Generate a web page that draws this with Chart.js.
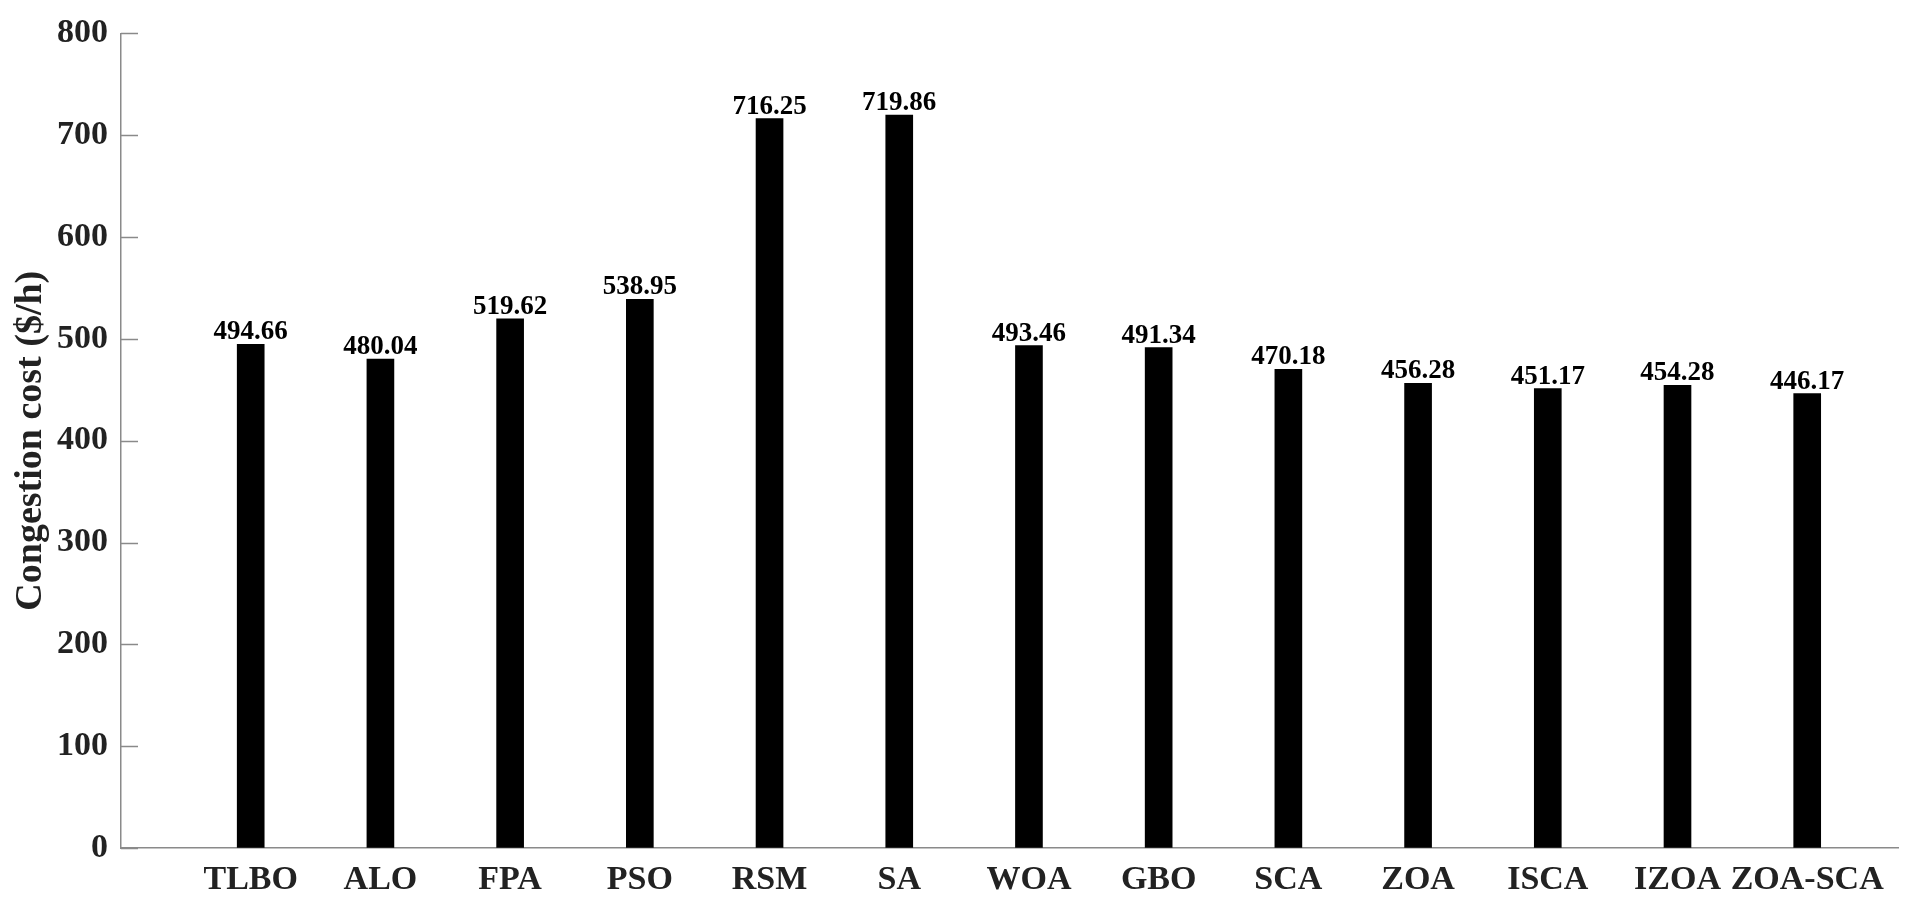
<!DOCTYPE html>
<html>
<head>
<meta charset="utf-8">
<script src="https://cdn.jsdelivr.net/npm/chart.js@4/dist/chart.umd.min.js"></script>
<style>
  html, body { margin: 0; padding: 0; background: #fff; }
  #wrap { width: 1913px; height: 910px; }
</style>
</head>
<body>
<div id="wrap"><canvas id="c" width="1913" height="910"></canvas></div>
<script>
const categories = ['TLBO', 'ALO', 'FPA', 'PSO', 'RSM', 'SA', 'WOA', 'GBO', 'SCA', 'ZOA', 'ISCA', 'IZOA', 'ZOA-SCA'];
const costs = [494.66, 480.04, 519.62, 538.95, 716.25, 719.86, 493.46, 491.34, 470.18, 456.28, 451.17, 454.28, 446.17];
const yTicks = [0, 100, 200, 300, 400, 500, 600, 700, 800];
const yTitle = 'Congestion cost ($/h)';

const SERIF = '"Liberation Serif", "Times New Roman", serif';
const AXIS_GRAY = '#8a8a8a';
const TEXT = '#222222';

const valueLabels = {
  id: 'valueLabels',
  afterDatasetsDraw(chart) {
    const ctx = chart.ctx;
    const meta = chart.getDatasetMeta(0);
    ctx.save();
    ctx.font = 'bold 27px ' + SERIF;
    ctx.fillStyle = '#000';
    ctx.textAlign = 'center';
    ctx.textBaseline = 'alphabetic';
    meta.data.forEach((el, i) => {
      ctx.fillText(costs[i].toFixed(2), el.x, el.y - 5);
    });
    ctx.restore();
  }
};

const inwardTicks = {
  id: 'inwardTicks',
  afterDraw(chart) {
    const y = chart.scales.y;
    const ctx = chart.ctx;
    const x0 = chart.chartArea.left;
    ctx.save();
    ctx.strokeStyle = AXIS_GRAY;
    ctx.lineWidth = 1.5;
    yTicks.forEach(v => {
      const py = Math.round(y.getPixelForValue(v)) + 0.5;
      ctx.beginPath();
      ctx.moveTo(x0, py);
      ctx.lineTo(x0 + 17, py);
      ctx.stroke();
    });
    ctx.restore();
  }
};

new Chart(document.getElementById('c'), {
  type: 'bar',
  data: {
    datasets: [{
      data: categories.map((c, i) => ({ x: i + 1, y: costs[i] })),
      backgroundColor: '#000',
      borderWidth: 0,
      barThickness: 27
    }]
  },
  options: {
    responsive: false,
    animation: false,
    devicePixelRatio: 1,
    layout: { padding: { top: 32, right: 15, left: 0, bottom: 0 } },
    plugins: { legend: { display: false }, tooltip: { enabled: false } },
    scales: {
      x: {
        type: 'linear',
        offset: false,
        min: 0,
        max: 13.7,
        afterBuildTicks(scale) {
          scale.ticks = categories.map((c, i) => ({ value: i + 1 }));
        },
        afterFit(scale) { scale.height = 62; scale.paddingLeft = 0; scale.paddingRight = 0; },
        grid: { drawOnChartArea: false, drawTicks: false, offset: false },
        border: { color: AXIS_GRAY, width: 1.5 },
        ticks: {
          autoSkip: false,
          maxRotation: 0,
          minRotation: 0,
          padding: 12,
          color: TEXT,
          font: { family: SERIF, size: 34, weight: 'bold' },
          callback(value) {
            const i = Math.round(value) - 1;
            return (Math.abs(value - Math.round(value)) < 1e-6 && i >= 0 && i < categories.length) ? categories[i] : '';
          }
        }
      },
      y: {
        min: 0,
        max: 800,
        afterBuildTicks(scale) {
          scale.ticks = yTicks.map(v => ({ value: v }));
        },
        afterFit(scale) { scale.width = 121; },
        grid: { drawOnChartArea: false, drawTicks: false },
        border: { color: AXIS_GRAY, width: 1.5 },
        ticks: {
          padding: 13,
          color: TEXT,
          font: { family: SERIF, size: 34, weight: 'bold' }
        },
        title: {
          display: true,
          text: yTitle,
          color: TEXT,
          padding: { top: 8, bottom: 0 },
          font: { family: SERIF, size: 38, weight: 'bold' }
        }
      }
    }
  },
  plugins: [valueLabels, inwardTicks]
});
</script>
</body>
</html>
